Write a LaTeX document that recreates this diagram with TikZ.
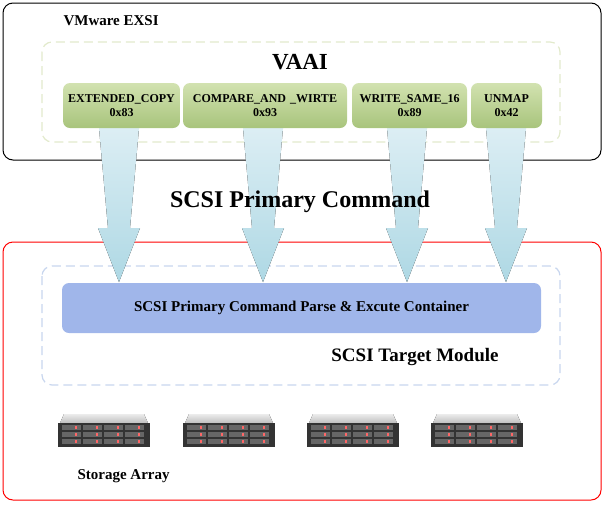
\documentclass[tikz,border=0pt]{standalone}
\usepackage{fontspec}
\setmainfont{Liberation Serif}
\usetikzlibrary{calc,positioning}
\definecolor{gtop}{HTML}{D2E2B0}
\definecolor{gbot}{HTML}{A8C47C}
\definecolor{atop}{HTML}{DCEEF4}
\definecolor{abot}{HTML}{AED8E4}
\definecolor{barc}{HTML}{A0B6EA}
\definecolor{gdash}{HTML}{E2EACC}
\definecolor{bdash}{HTML}{C8D6EE}
\begin{document}
\begin{tikzpicture}[x=1pt,y=-1pt,
 cmd/.style={draw=none,rounded corners=7pt,top color=gtop,bottom color=gbot,text width=#1,align=center,minimum height=45pt,font=\bfseries\fontsize{12}{14}\selectfont,inner sep=1pt},
 lbl/.style={font=\bfseries\fontsize{15}{18}\selectfont}]
\useasboundingbox (0,0) rectangle (604,504);
\draw[rounded corners=10pt,line width=1pt] (3,3) rectangle (601,160);
\node[lbl,anchor=west] (vm) at (60,21) {VMware EXSI};
\draw[rounded corners=10pt,dash pattern=on 9pt off 5pt,draw=gdash,line width=1.2pt] (42,42) rectangle (560,142);
\node[font=\bfseries\fontsize{23}{26}\selectfont] (vaai) at (300,62) {VAAI};
\draw[rounded corners=10pt,line width=1pt,red] (3,242) rectangle (601,500);
\draw[rounded corners=10pt,dash pattern=on 9pt off 5pt,draw=bdash,line width=1.2pt] (42,266) rectangle (560,385);
\node[draw=none,fill=barc,rounded corners=7pt,minimum width=479pt,minimum height=50pt,lbl] (bar) at (301.5,308) {SCSI Primary Command Parse \& Excute Container};
\node[font=\bfseries\fontsize{19}{22}\selectfont] (tm) at (415,357) {SCSI Target Module};
% arrows
\foreach \c/\t in {119/128,263/128,407/128,506/128}{
 \fill[top color=atop,bottom color=abot]
  (\c-20,\t) -- (\c+20,\t) -- (\c+11,\t+100) -- (\c+21,\t+100) -- (\c,\t+154) -- (\c-21,\t+100) -- (\c-11,\t+100) -- cycle;
}
\node[font=\bfseries\fontsize{24}{28}\selectfont] (spc) at (300,202) {SCSI Primary Command};
\node[cmd=115pt] (ec) at (121.5,105.5) {EXTENDED\_COPY\\0x83};
\node[cmd=162pt] (cw) at (265,105.5) {COMPARE\_AND \_WIRTE\\0x93};
\node[cmd=113pt] (ws) at (409.5,105.5) {WRITE\_SAME\_16\\0x89};
\node[cmd=69pt] (um) at (506.5,105.5) {UNMAP\\0x42};
% servers
\foreach \x in {104,229,353,477}{
 \fill[top color=gray!15,bottom color=gray!50] (\x-40,414)--(\x+40,414)--(\x+44,423)--(\x-44,423)--cycle;
 \fill[black!80] (\x-46,423) rectangle (\x+46,447);
 \foreach \i in {0,1,2,3}{\foreach \j in {0,1,2}{
  \fill[black!60] (\x-42+\i*21,425+\j*7) rectangle (\x-23+\i*21,430+\j*7);
  \fill[red!60] (\x-29+\i*21,426+\j*7) rectangle (\x-27+\i*21,429+\j*7);}}
}
\node[lbl,anchor=west] (sa) at (74,476) {Storage Array};
\end{tikzpicture}
\end{document}
